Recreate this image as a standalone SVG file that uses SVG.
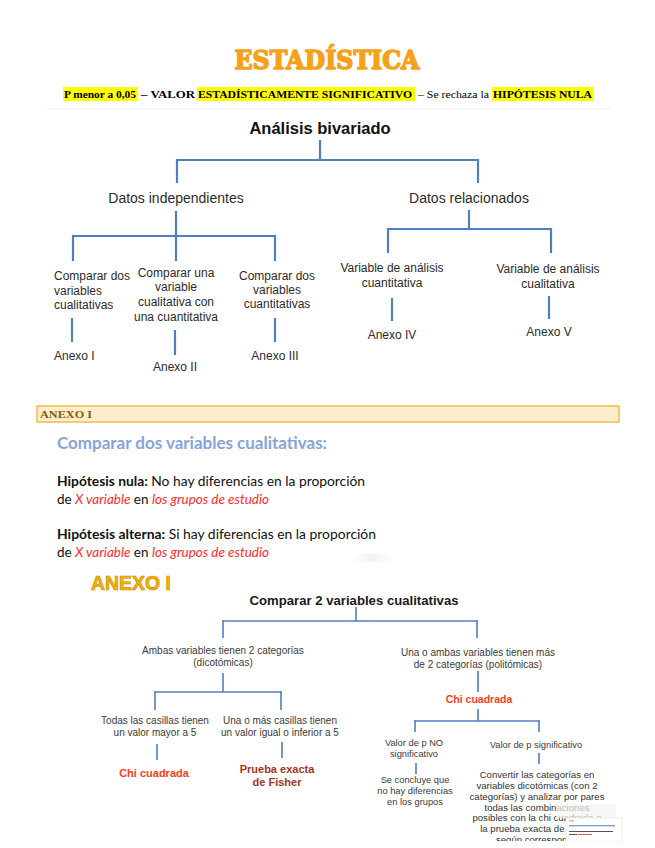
<svg xmlns="http://www.w3.org/2000/svg" width="655" height="848" viewBox="0 0 655 848">
<style>
.t{font-family:"Liberation Sans",Arial,sans-serif;fill:#2b2b2b;text-anchor:middle}
.t1{font-size:14px}
.t2{font-size:12px}
.t3{font-size:10px;fill:#3a3a3a}
.t4{font-size:9.3px;fill:#3a3a3a}
.l{text-anchor:start}
.c{font-family:Lato,"Open Sans",sans-serif;font-size:13.5px;fill:#111}
.red{fill:#ff2a2a;font-style:italic}
.hl{fill:#ffff00}
.sub{font-family:"Liberation Serif","Times New Roman",serif;font-size:11px;font-weight:bold;fill:#000}
.chi{fill:#ff3b22;font-weight:bold}
.fish{fill:#a53521;font-weight:bold}
.ln path,.ln line{stroke:#4f7fbf;fill:none}
.ln1 line{stroke-width:2.2}
.ln2 line{stroke-width:1.6}
</style>
<defs>
<linearGradient id="gp" x1="0" y1="0" x2="1" y2="0">
<stop offset="0" stop-color="#f4f4f4" stop-opacity="0"/>
<stop offset="0.5" stop-color="#f1f1f1"/>
<stop offset="1" stop-color="#f6f6f6" stop-opacity="0.4"/>
</linearGradient>
<clipPath id="cl"><rect x="0" y="0" width="655" height="841"/></clipPath>
</defs>
<rect width="655" height="848" fill="#ffffff"/>

<!-- header -->
<g id="title">
<text x="327" y="69" text-anchor="middle" font-family="'DejaVu Serif',serif" font-weight="bold" font-size="26" fill="#f7a11a" stroke="#f7a11a" stroke-width="1.6" stroke-linejoin="round" textLength="185" lengthAdjust="spacingAndGlyphs">ESTADÍSTICA</text>
</g>
<g id="subtitle">
<rect class="hl" x="63" y="87" width="75" height="14"/>
<rect class="hl" x="197" y="87" width="218" height="14"/>
<rect class="hl" x="492" y="87" width="102" height="14"/>
<text class="sub" x="64" y="98" textLength="72" lengthAdjust="spacingAndGlyphs">P menor a 0,05</text>
<text class="sub" x="141" y="98" textLength="54" lengthAdjust="spacingAndGlyphs">– VALOR</text>
<text class="sub" x="198" y="98" textLength="214" lengthAdjust="spacingAndGlyphs">ESTADÍSTICAMENTE SIGNIFICATIVO</text>
<text class="sub" x="418" y="98" font-weight="normal" style="font-weight:normal" textLength="71" lengthAdjust="spacingAndGlyphs">– Se rechaza la</text>
<text class="sub" x="493" y="98" textLength="99" lengthAdjust="spacingAndGlyphs">HIPÓTESIS NULA</text>
</g>
<line x1="45" y1="109" x2="612" y2="109" stroke="#eeeeee" stroke-width="1"/>

<!-- tree 1 connectors -->
<g id="connectors1" class="ln ln1">
<line x1="320" y1="140" x2="320" y2="160"/>
<line x1="176" y1="160" x2="478" y2="160"/>
<line x1="177" y1="159" x2="177" y2="183"/>
<line x1="478" y1="159" x2="478" y2="183"/>
<line x1="176" y1="211" x2="176" y2="236"/>
<line x1="72" y1="236" x2="275" y2="236"/>
<line x1="73" y1="235" x2="73" y2="261"/>
<line x1="176" y1="235" x2="176" y2="261"/>
<line x1="275" y1="235" x2="275" y2="261"/>
<line x1="469" y1="210" x2="469" y2="229"/>
<line x1="387" y1="229" x2="551" y2="229"/>
<line x1="388" y1="228" x2="388" y2="253"/>
<line x1="551" y1="228" x2="551" y2="253"/>
<line x1="72" y1="318" x2="72" y2="342"/>
<line x1="175" y1="330" x2="175" y2="355"/>
<line x1="275" y1="318" x2="275" y2="342"/>
<line x1="392" y1="298" x2="392" y2="321"/>
<line x1="549" y1="296" x2="549" y2="319"/>
</g>

<g id="n-bivariado"><text class="t" x="320" y="134" style="font-size:16.5px;font-weight:bold;fill:#111">Análisis bivariado</text></g>
<g id="n-indep"><text class="t t1" x="176" y="203">Datos independientes</text></g>
<g id="n-relac"><text class="t t1" x="469" y="203">Datos relacionados</text></g>
<g id="n-c1"><text class="t t2 l" x="54"><tspan x="54" y="280">Comparar dos</tspan><tspan x="54" y="295">variables</tspan><tspan x="54" y="309">cualitativas</tspan></text></g>
<g id="n-c2"><text class="t t2"><tspan x="176" y="277">Comparar una</tspan><tspan x="176" y="291">variable</tspan><tspan x="176" y="306">cualitativa con</tspan><tspan x="176" y="321">una cuantitativa</tspan></text></g>
<g id="n-c3"><text class="t t2"><tspan x="277" y="280">Comparar dos</tspan><tspan x="277" y="294">variables</tspan><tspan x="277" y="308">cuantitativas</tspan></text></g>
<g id="n-c4"><text class="t t2"><tspan x="392" y="272">Variable de análisis</tspan><tspan x="392" y="287">cuantitativa</tspan></text></g>
<g id="n-c5"><text class="t t2"><tspan x="548" y="273">Variable de análisis</tspan><tspan x="548" y="288">cualitativa</tspan></text></g>
<g id="n-a1"><text class="t t2 l" x="54" y="360">Anexo I</text></g>
<g id="n-a2"><text class="t t2" x="175" y="371">Anexo II</text></g>
<g id="n-a3"><text class="t t2" x="275" y="360">Anexo III</text></g>
<g id="n-a4"><text class="t t2" x="392" y="339">Anexo IV</text></g>
<g id="n-a5"><text class="t t2" x="549" y="336">Anexo V</text></g>

<!-- annex bar -->
<g id="annex-bar">
<rect x="37" y="406" width="582" height="16" fill="#fdeccd" stroke="#f6bb4a" stroke-width="1.5"/>
<text x="40" y="418" font-family="'Liberation Serif',serif" font-weight="bold" font-size="9.5" fill="#7f6000" textLength="52" lengthAdjust="spacingAndGlyphs">ANEXO I</text>
</g>

<g id="hypotheses">
<text x="57" y="449" font-family="Lato,'Open Sans',sans-serif" font-weight="bold" font-size="17" fill="#86a3dc" textLength="270" lengthAdjust="spacingAndGlyphs">Comparar dos variables cualitativas:</text>
<text class="c" x="57" y="486" textLength="308" lengthAdjust="spacingAndGlyphs"><tspan font-weight="bold">Hipótesis nula:</tspan> No hay diferencias en la proporción</text>
<text class="c" x="57" y="504" textLength="212" lengthAdjust="spacingAndGlyphs">de <tspan class="red">X variable</tspan> en <tspan class="red">los grupos de estudio</tspan></text>
<text class="c" x="57" y="539" textLength="319" lengthAdjust="spacingAndGlyphs"><tspan font-weight="bold">Hipótesis alterna:</tspan> Si hay diferencias en la proporción</text>
<text class="c" x="57" y="557" textLength="212" lengthAdjust="spacingAndGlyphs">de <tspan class="red">X variable</tspan> en <tspan class="red">los grupos de estudio</tspan></text>
<rect x="352" y="554" width="38" height="8" fill="url(#gp)"/>
</g>

<g id="annex-big">
<text x="91" y="590" font-family="'Liberation Sans',Arial,sans-serif" font-weight="bold" font-size="21" fill="#f5b400" stroke="#c98a00" stroke-width="0.7" textLength="80" lengthAdjust="spacingAndGlyphs">ANEXO I</text>
</g>

<!-- tree 2 connectors -->
<g id="connectors2" class="ln ln2">
<line x1="356" y1="607" x2="356" y2="621"/>
<line x1="223" y1="621" x2="477" y2="621"/>
<line x1="223" y1="620" x2="223" y2="638"/>
<line x1="477" y1="620" x2="477" y2="638"/>
<line x1="223" y1="673" x2="223" y2="692"/>
<line x1="155" y1="692" x2="281" y2="692"/>
<line x1="155" y1="691" x2="155" y2="710"/>
<line x1="281" y1="691" x2="281" y2="710"/>
<line x1="478" y1="671" x2="478" y2="692"/>
<line x1="478" y1="709" x2="478" y2="721"/>
<line x1="415" y1="721" x2="539" y2="721"/>
<line x1="415" y1="720" x2="415" y2="732"/>
<line x1="539" y1="720" x2="539" y2="732"/>
<line x1="157" y1="744" x2="157" y2="760"/>
<line x1="282" y1="742" x2="282" y2="758"/>
<line x1="416" y1="763" x2="416" y2="774"/>
<line x1="539" y1="753" x2="539" y2="764"/>
</g>

<g id="n-comparar2"><text class="t" x="354" y="605" style="font-size:13.5px;font-weight:bold;fill:#1a1a1a" textLength="209" lengthAdjust="spacingAndGlyphs">Comparar 2 variables cualitativas</text></g>
<g id="n-ambas"><text class="t t3"><tspan x="223" y="654">Ambas variables tienen 2 categorías</tspan><tspan x="223" y="666">(dicotómicas)</tspan></text></g>
<g id="n-una"><text class="t t3"><tspan x="478" y="656">Una o ambas variables tienen más</tspan><tspan x="478" y="668">de 2 categorías (politómicas)</tspan></text></g>
<g id="n-chi-r"><text class="t chi" x="479" y="703" style="font-size:10.5px">Chi cuadrada</text></g>
<g id="n-todas"><text class="t t3"><tspan x="155" y="724">Todas las casillas tienen</tspan><tspan x="155" y="736">un valor mayor a 5</tspan></text></g>
<g id="n-unaomas"><text class="t t3"><tspan x="280" y="724">Una o más casillas tienen</tspan><tspan x="280" y="736">un valor igual o inferior a 5</tspan></text></g>
<g id="n-chi-l"><text class="t chi" x="154" y="777" style="font-size:11px">Chi cuadrada</text></g>
<g id="n-fisher"><text class="t fish" style="font-size:11px"><tspan x="277" y="773">Prueba exacta</tspan><tspan x="277" y="786">de Fisher</tspan></text></g>
<g id="n-pno"><text class="t t4"><tspan x="414" y="746">Valor de p NO</tspan><tspan x="414" y="757">significativo</tspan></text></g>
<g id="n-psig"><text class="t t4" x="536" y="748">Valor de p significativo</text></g>
<g id="n-concluye"><text class="t t4"><tspan x="415" y="783">Se concluye que</tspan><tspan x="415" y="794">no hay diferencias</tspan><tspan x="415" y="805">en los grupos</tspan></text></g>
<g id="n-convertir" clip-path="url(#cl)"><text class="t" style="font-size:9.6px;fill:#333"><tspan x="537" y="778">Convertir las categorías en</tspan><tspan x="537" y="789">variables dicotómicas (con 2</tspan><tspan x="537" y="800">categorías) y analizar por pares</tspan><tspan x="537" y="811">todas las combinaciones</tspan><tspan x="537" y="821">posibles con la chi cuadrada o</tspan><tspan x="537" y="832">la prueba exacta de Fisher</tspan><tspan x="537" y="843">según corresponda</tspan></text></g>

<!-- small thumbnail overlay -->
<g id="thumb">
<rect x="556" y="804" width="60" height="14" fill="#f3f3f3" opacity="0.7"/>
<rect x="566" y="818" width="56" height="24" fill="#ffffff" stroke="#e4e4e4" stroke-width="0.6"/>
<rect x="569" y="820" width="5" height="1.5" fill="#f0c060"/>
<rect x="569" y="825" width="46" height="1.4" fill="#7f9fdc"/>
<rect x="569" y="831" width="44" height="1" fill="#555"/>
<rect x="569" y="834" width="8" height="1" fill="#555"/>
<rect x="578" y="834" width="14" height="1" fill="#f05050"/>
</g>
<rect x="0" y="842" width="655" height="6" fill="#ffffff"/>
</svg>
